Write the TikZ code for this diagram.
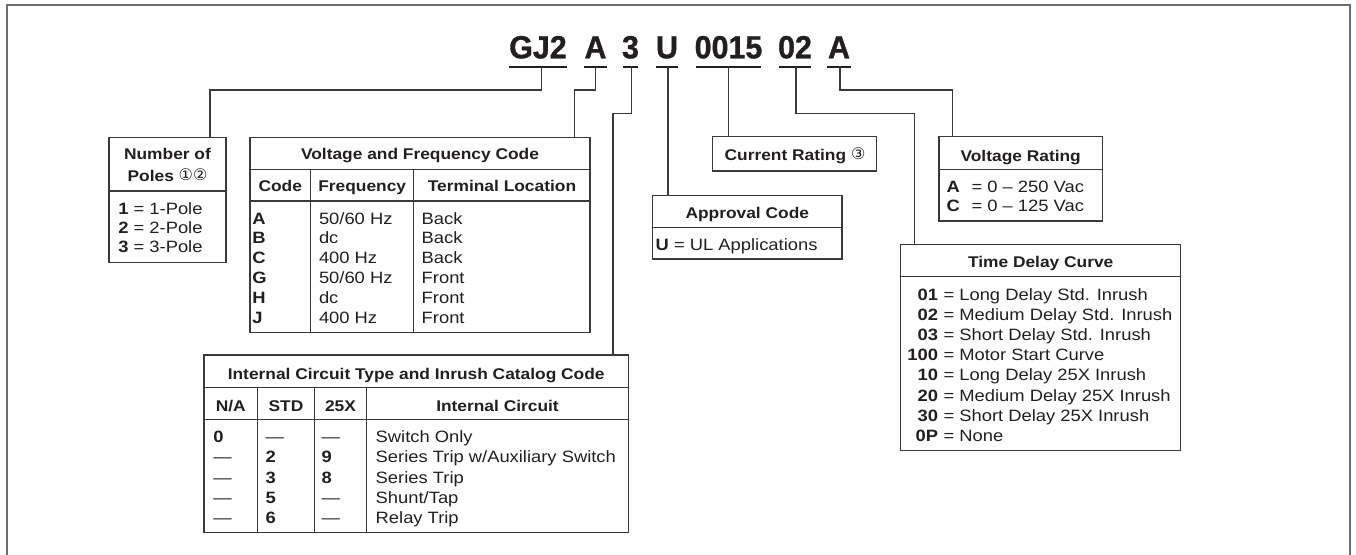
\documentclass[tikz,border=0pt]{standalone}
\usepackage{fontspec}
\setmainfont{Liberation Sans}[FakeStretch=1.12]
\newfontfamily\titlefam{Liberation Sans}[FakeStretch=0.95,FakeBold=1]
\newfontfamily\circfam{DejaVu Sans}
\newcommand\mybody{\fontsize{16.4}{20}\selectfont}
\newcommand\myhead{\fontsize{15.5}{19}\selectfont\bfseries}
\newcommand\mycirc[1]{{\circfam\mdseries\fontsize{16}{16}\selectfont\raisebox{1pt}{#1}}}
\definecolor{ink}{HTML}{231F20}
\definecolor{linec}{HTML}{3A3A3A}
\definecolor{framec}{HTML}{6E6E6E}
\begin{document}
\begin{tikzpicture}[x=1pt,y=-1pt,
  every node/.style={inner sep=0pt,outer sep=0pt,text=ink},
  box/.style={draw=linec,line width=1.2pt,anchor=north west},
  rule/.style={draw=linec,line width=1.2pt},
  conn/.style={draw=linec,line width=1.1pt},
  uline/.style={draw=ink,line width=2.2pt},
  titletxt/.style={font=\titlefam\bfseries\fontsize{32}{32}\selectfont,anchor=base},
  hdtxt/.style={font=\myhead,anchor=base},
  bdtxt/.style={font=\mybody,anchor=base west},
  bdtxtr/.style={font=\mybody,anchor=base east}]
\useasboundingbox (0,0) rectangle (1356,554);
% outer frame
\draw[framec,line width=2pt] (7,560) -- (7,5) -- (1350,5) -- (1350,560);

% ---- title code ----
\node[titletxt] (t1) at (538,58.3) {GJ2};
\node[titletxt] (t2) at (595.5,58.3) {A};
\node[titletxt] (t3) at (630.5,58.3) {3};
\node[titletxt] (t4) at (667,58.3) {U};
\node[titletxt] (t5) at (728.5,58.3) {0015};
\node[titletxt] (t6) at (795,58.3) {02};
\node[titletxt] (t7) at (839,58.3) {A};
\draw[uline] (509,66.7) -- (567,66.7);
\draw[uline] (584,66.7) -- (607,66.7);
\draw[uline] (623,66.7) -- (638,66.7);
\draw[uline] (656,66.7) -- (678,66.7);
\draw[uline] (696,66.7) -- (761,66.7);
\draw[uline] (779,66.7) -- (811,66.7);
\draw[uline] (827,66.7) -- (851,66.7);
\coordinate (u1) at (541.7,66.7);
\coordinate (u2) at (595.7,66.7);
\coordinate (u3) at (631.7,66.7);
\coordinate (u4) at (668,66.7);
\coordinate (u5) at (728.3,66.7);
\coordinate (u6) at (796,66.7);
\coordinate (u7) at (840,66.7);

% ---- boxes ----
\node[box,minimum width=117,minimum height=125.4] (poles) at (109,137.3) {};
\node[box,minimum width=340,minimum height=195.4] (vf) at (250,137.3) {};
\node[box,minimum width=164,minimum height=34.3] (cur) at (712.7,136.7) {};
\node[box,minimum width=189.3,minimum height=63.7] (appr) at (652.7,195.3) {};
\node[box,minimum width=163.3,minimum height=84.3] (vr) at (939,136.7) {};
\node[box,minimum width=280,minimum height=206] (td) at (900.7,244.3) {};
\node[box,minimum width=424.3,minimum height=177.3] (ic) at (204,355) {};

% ---- connectors ----
\coordinate (k1) at (210,137.3);
\coordinate (k2) at (574.5,137.3);
\coordinate (k3) at (613,355);
\coordinate (k4) at (668,195.3);
\coordinate (k5) at (728.3,136.7);
\coordinate (k6) at (914.5,244.3);
\coordinate (k7) at (952.7,136.7);
\draw[conn] (u1) -- ++(0,23.3) -| (k1);
\draw[conn] (u2) -- ++(0,23.3) -| (k2);
\draw[conn] (u3) -- ++(0,46.8) -| (k3);
\draw[conn] (u4) -- (k4);
\draw[conn] (u5) -- (k5);
\draw[conn] (u6) -- ++(0,46.8) -| (k6);
\draw[conn] (u7) -- ++(0,23.3) -| (k7);

% ---- Number of Poles ----
\draw[rule] (poles.west |- 0,191) -- (poles.east |- 0,191);
\node[hdtxt] (p-h1) at (167.5,159.3) {Number of};
\node[hdtxt] (p-h2) at (167.5,181.7) {Poles \mycirc{①②}};
\foreach \n [count=\i from 0] in {1,2,3}
  \node[bdtxt] (p-r\i) at (118.3,{214.3+19.2*\i}) {\textbf{\n} = \n-Pole};

% ---- Voltage and Frequency Code ----
\draw[rule] (vf.west |- 0,169.3) -- (vf.east |- 0,169.3);
\draw[rule] (vf.west |- 0,201) -- (vf.east |- 0,201);
\draw[rule] (310.7,169.3) -- (310.7,332.7);
\draw[rule] (413.7,169.3) -- (413.7,332.7);
\node[hdtxt] (vf-h) at (420,159.3) {Voltage and Frequency Code};
\node[hdtxt] (vf-c1) at (280.3,191.5) {Code};
\node[hdtxt] (vf-c2) at (362.2,191.5) {Frequency};
\node[hdtxt] (vf-c3) at (502,191.5) {Terminal Location};
\foreach \a/\b/\c [count=\i from 0] in {A/{50/60 Hz}/Back,B/dc/Back,C/400 Hz/Back,G/{50/60 Hz}/Front,H/dc/Front,J/400 Hz/Front}{
  \node[bdtxt] (vf-a\i) at (252.3,{224+19.9*\i}) {\textbf{\a}};
  \node[bdtxt] (vf-b\i) at (319,{224+19.9*\i}) {\b};
  \node[bdtxt] (vf-c\i) at (421.7,{224+19.9*\i}) {\c};
}

% ---- Current Rating ----
\node[hdtxt] (cur-h) at (795,160.5) {Current Rating \mycirc{③}};

% ---- Approval Code ----
\draw[rule] (appr.west |- 0,227.3) -- (appr.east |- 0,227.3);
\node[hdtxt] (appr-h) at (747.3,218.3) {Approval Code};
\node[bdtxt] (appr-r) at (655.7,250) {\textbf{U} = UL Applications};

% ---- Voltage Rating ----
\draw[rule] (vr.west |- 0,169.3) -- (vr.east |- 0,169.3);
\node[hdtxt] (vr-h) at (1020.7,161) {Voltage Rating};
\node[bdtxt] (vr-a1) at (946.7,192.3) {\textbf{A}};
\node[bdtxt] (vr-b1) at (971.5,192.3) {= 0 – 250 Vac};
\node[bdtxt] (vr-a2) at (946.7,211.7) {\textbf{C}};
\node[bdtxt] (vr-b2) at (971.5,211.7) {= 0 – 125 Vac};

% ---- Time Delay Curve ----
\draw[rule] (td.west |- 0,276.7) -- (td.east |- 0,276.7);
\node[hdtxt] (td-h) at (1040.7,267.7) {Time Delay Curve};
\foreach \c/\t [count=\i from 0] in {01/Long Delay Std. Inrush,02/Medium Delay Std. Inrush,03/Short Delay Std. Inrush,100/Motor Start Curve,10/Long Delay 25X Inrush,20/Medium Delay 25X Inrush,30/Short Delay 25X Inrush,0P/None}{
  \node[bdtxtr] (td-c\i) at (938,{300.5+20.1*\i}) {\textbf{\c}};
  \node[bdtxt] (td-t\i) at (943.5,{300.5+20.1*\i}) {= \t};
}

% ---- Internal Circuit ----
\draw[rule] (ic.west |- 0,387.7) -- (ic.east |- 0,387.7);
\draw[rule] (ic.west |- 0,419.3) -- (ic.east |- 0,419.3);
\draw[rule] (257.7,387.7) -- (257.7,532.3);
\draw[rule] (314.3,387.7) -- (314.3,532.3);
\draw[rule] (366.7,387.7) -- (366.7,532.3);
\node[hdtxt] (ic-h) at (416.2,379.3) {Internal Circuit Type and Inrush Catalog Code};
\node[hdtxt] (ic-c1) at (230.8,411.7) {N/A};
\node[hdtxt] (ic-c2) at (286,411.7) {STD};
\node[hdtxt] (ic-c3) at (340.5,411.7) {25X};
\node[hdtxt] (ic-c4) at (497.5,411.7) {Internal Circuit};
\foreach \a/\b/\c/\d [count=\i from 0] in {{\textbf{0}}/—/—/Switch Only,—/{\textbf{2}}/{\textbf{9}}/{Series Trip w/Auxiliary Switch},—/{\textbf{3}}/{\textbf{8}}/Series Trip,—/{\textbf{5}}/—/{Shunt/Tap},—/{\textbf{6}}/—/Relay Trip}{
  \node[bdtxt] (ic-a\i) at (213.3,{442.7+20.15*\i}) {\a};
  \node[bdtxt] (ic-b\i) at (265.7,{442.7+20.15*\i}) {\b};
  \node[bdtxt] (ic-c\i) at (321.7,{442.7+20.15*\i}) {\c};
  \node[bdtxt] (ic-d\i) at (375.7,{442.7+20.15*\i}) {\d};
}
\end{tikzpicture}
\end{document}
